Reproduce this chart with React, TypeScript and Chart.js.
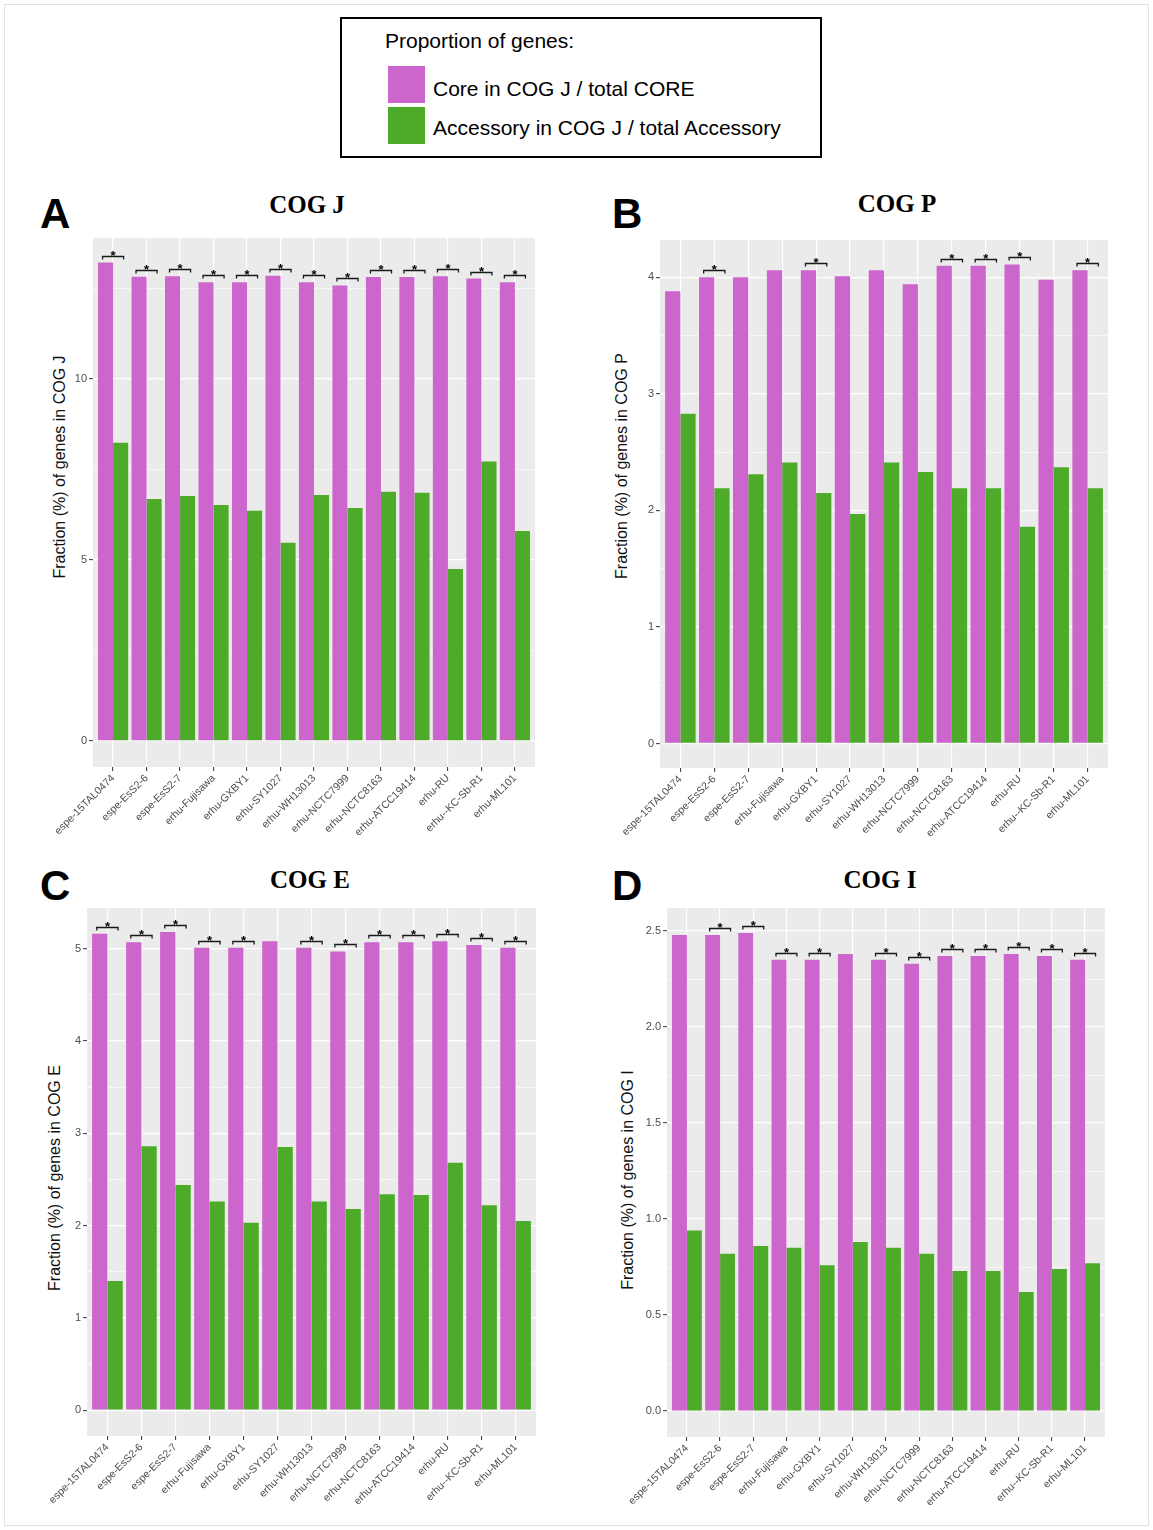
import React, { useEffect, useRef } from 'react';
import { Chart, registerables } from 'chart.js';

Chart.register(...registerables);

// ---------- data ----------
const strains = [
  'espe-15TAL0474', 'espe-EsS2-6', 'espe-EsS2-7', 'erhu-Fujisawa', 'erhu-GXBY1',
  'erhu-SY1027', 'erhu-WH13013', 'erhu-NCTC7999', 'erhu-NCTC8163', 'erhu-ATCC19414',
  'erhu-RU', 'erhu--KC-Sb-R1', 'erhu-ML101',
];

const cogJCore = [13.22, 12.83, 12.84, 12.68, 12.68, 12.86, 12.68, 12.59, 12.82, 12.82, 12.84, 12.78, 12.68];
const cogJAcc = [8.24, 6.69, 6.77, 6.52, 6.36, 5.48, 6.8, 6.44, 6.89, 6.86, 4.75, 7.72, 5.8];
const cogJSig = [1, 1, 1, 1, 1, 1, 1, 1, 1, 1, 1, 1, 1];
const cogJTicks = [0, 2.5, 5, 7.5, 10, 12.5];

const cogPCore = [3.88, 4.0, 4.0, 4.06, 4.06, 4.01, 4.06, 3.94, 4.1, 4.1, 4.11, 3.98, 4.06];
const cogPAcc = [2.83, 2.19, 2.31, 2.41, 2.15, 1.97, 2.41, 2.33, 2.19, 2.19, 1.86, 2.37, 2.19];
const cogPSig = [0, 1, 0, 0, 1, 0, 0, 0, 1, 1, 1, 0, 1];
const cogPTicks = [0, 0.5, 1, 1.5, 2, 2.5, 3, 3.5, 4];

const cogECore = [5.16, 5.07, 5.18, 5.01, 5.01, 5.08, 5.01, 4.97, 5.07, 5.07, 5.08, 5.04, 5.01];
const cogEAcc = [1.4, 2.86, 2.44, 2.26, 2.03, 2.85, 2.26, 2.18, 2.34, 2.33, 2.68, 2.22, 2.05];
const cogESig = [1, 1, 1, 1, 1, 0, 1, 1, 1, 1, 1, 1, 1];
const cogETicks = [0, 0.5, 1, 1.5, 2, 2.5, 3, 3.5, 4, 4.5, 5];

const cogICore = [2.48, 2.48, 2.49, 2.35, 2.35, 2.38, 2.35, 2.33, 2.37, 2.37, 2.38, 2.37, 2.35];
const cogIAcc = [0.94, 0.82, 0.86, 0.85, 0.76, 0.88, 0.85, 0.82, 0.73, 0.73, 0.62, 0.74, 0.77];
const cogISig = [0, 1, 1, 1, 1, 0, 1, 1, 1, 1, 1, 1, 1];
const cogITicks = [0, 0.25, 0.5, 0.75, 1, 1.25, 1.5, 1.75, 2, 2.25, 2.5];

const legendTitle = 'Proportion of genes:';
const legendCore = 'Core in COG J / total CORE';
const legendAcc = 'Accessory in COG J / total Accessory';

// ---------- style ----------
const PINK = '#CC66CC';
const GREEN = '#4DAB29';
const SANS = '"Liberation Sans", Arial, Helvetica, sans-serif';
const SERIF = '"Liberation Serif", "Times New Roman", serif';

const decoPlugin = {
  id: 'panelDeco',
  beforeDraw(chart: any) {
    const { ctx, chartArea: a } = chart;
    ctx.save();
    ctx.fillStyle = '#EBEBEB';
    ctx.fillRect(a.left, a.top, a.right - a.left, a.bottom - a.top);
    ctx.restore();
  },
  afterDatasetsDraw(chart: any, _args: any, opts: any) {
    const sig: number[] = opts.sig || [];
    const ctx = chart.ctx;
    const m0 = chart.getDatasetMeta(0);
    const m1 = chart.getDatasetMeta(1);
    ctx.save();
    ctx.strokeStyle = '#1a1a1a';
    ctx.lineWidth = 1.3;
    ctx.fillStyle = '#000';
    ctx.font = 'bold 13px ' + SANS;
    ctx.textAlign = 'center';
    ctx.textBaseline = 'alphabetic';
    sig.forEach((s, i) => {
      if (!s) return;
      const e0 = m0.data[i];
      const e1 = m1.data[i];
      const top = Math.min(e0.y, e1.y);
      const yb = Math.round(top - 7) + 0.5;
      const xl = e0.x - 3;
      const xr = e1.x + 3;
      ctx.beginPath();
      ctx.moveTo(xl, yb + 3);
      ctx.lineTo(xl, yb);
      ctx.lineTo(xr, yb);
      ctx.lineTo(xr, yb + 3);
      ctx.stroke();
      ctx.fillText('*', (xl + xr) / 2, yb + 3);
    });
    ctx.restore();
  },
};

type PanelProps = {
  core: number[];
  acc: number[];
  sig: number[];
  yTicks: number[];
  majorStep: number;
  decimals: number;
  yMin: number;
  yMax: number;
  left: number;
  top: number;
  width: number;
  height: number;
  plotLeft: number;
  plotRight: number;
  plotTop: number;
  plotBottom: number;
};

function Panel(p: PanelProps) {
  const ref = useRef<HTMLCanvasElement>(null);
  useEffect(() => {
    const canvas = ref.current as HTMLCanvasElement;
    const yW = p.plotLeft - p.left;
    const xH = p.top + p.height - p.plotBottom;
    const padTop = p.plotTop - p.top;
    const padRight = p.left + p.width - p.plotRight;
    const isMajor = (v: number) => Math.abs(v / p.majorStep - Math.round(v / p.majorStep)) < 1e-6;
    const chart = new Chart(canvas, {
      type: 'bar',
      data: {
        datasets: [
          {
            label: 'Core',
            data: p.core.map((v, i) => ({ x: i, y: v })),
            backgroundColor: PINK,
            borderWidth: 0,
            barPercentage: 1,
            categoryPercentage: 0.9,
          },
          {
            label: 'Accessory',
            data: p.acc.map((v, i) => ({ x: i, y: v })),
            backgroundColor: GREEN,
            borderWidth: 0,
            barPercentage: 1,
            categoryPercentage: 0.9,
          },
        ],
      } as any,
      options: {
        responsive: false,
        maintainAspectRatio: false,
        animation: false,
        layout: { padding: { top: padTop, right: padRight, left: 0, bottom: 0 } },
        plugins: {
          legend: { display: false },
          tooltip: { enabled: false },
          panelDeco: { sig: p.sig },
        } as any,
        scales: {
          x: {
            type: 'linear',
            min: -0.6,
            max: strains.length - 1 + 0.6,
            offset: false,
            afterBuildTicks: (s: any) => {
              s.ticks = strains.map((_, i) => ({ value: i }));
            },
            afterFit: (s: any) => {
              s.height = xH;
            },
            ticks: {
              autoSkip: false,
              maxRotation: 45,
              minRotation: 45,
              padding: 1,
              color: '#4D4D4D',
              font: { family: SANS, size: 10.5 },
              callback: (v: any) => strains[Math.round(Number(v))] ?? '',
            },
            grid: {
              color: '#FFFFFF',
              lineWidth: 1.2,
              tickColor: '#333333',
              tickLength: 4,
              tickWidth: 1,
              offset: false,
            },
            border: { display: false },
          },
          y: {
            type: 'linear',
            min: p.yMin,
            max: p.yMax,
            afterBuildTicks: (s: any) => {
              s.ticks = p.yTicks.map((v) => ({ value: v }));
            },
            afterFit: (s: any) => {
              s.width = yW;
            },
            ticks: {
              padding: 2,
              color: '#4D4D4D',
              font: { family: SANS, size: 11 },
              callback: (v: any) => (isMajor(Number(v)) ? Number(v).toFixed(p.decimals) : ''),
            },
            grid: {
              color: '#FFFFFF',
              lineWidth: (c: any) => (c.tick && isMajor(c.tick.value) ? 1.3 : 0.6),
              tickColor: (c: any) => (c.tick && isMajor(c.tick.value) ? '#333333' : 'rgba(0,0,0,0)'),
              tickLength: 4,
              tickWidth: 1,
            },
            border: { display: false },
          },
        } as any,
      },
      plugins: [decoPlugin as any],
    });
    return () => chart.destroy();
  }, []);
  return (
    <canvas
      ref={ref}
      width={p.width}
      height={p.height}
      style={{ position: 'absolute', left: p.left, top: p.top, width: p.width, height: p.height }}
    />
  );
}

function Abs(props: { left: number; top: number; style?: any; children: any }) {
  return (
    <div
      style={{
        position: 'absolute',
        left: props.left,
        top: props.top,
        whiteSpace: 'nowrap',
        lineHeight: 1,
        ...(props.style || {}),
      }}
    >
      {props.children}
    </div>
  );
}

function Letter({ x, capTop, text }: { x: number; capTop: number; text: string }) {
  return (
    <Abs left={x} top={capTop - 0.13 * 42} style={{ font: `bold 42px ${SANS}`, color: '#000' }}>
      {text}
    </Abs>
  );
}

function Title({ cx, capTop, text }: { cx: number; capTop: number; text: string }) {
  return (
    <Abs
      left={cx - 100}
      top={capTop - 0.1755 * 25}
      style={{ width: 200, textAlign: 'center', font: `bold 25px ${SERIF}`, color: '#000' }}
    >
      {text}
    </Abs>
  );
}

function YTitle({ cx, cy, text }: { cx: number; cy: number; text: string }) {
  return (
    <Abs
      left={cx}
      top={cy}
      style={{
        font: `16px ${SANS}`,
        color: '#111',
        transform: 'translate(-50%, -50%) rotate(-90deg)',
      }}
    >
      {text}
    </Abs>
  );
}

export default function App() {
  return (
    <div
      style={{
        position: 'absolute',
        left: 0,
        top: 0,
        width: 1153,
        height: 1530,
        background: '#fff',
        overflow: 'hidden',
      }}
    >
      <div
        style={{
          position: 'absolute',
          left: 4,
          top: 4,
          width: 1145,
          height: 1522,
          border: '1px solid #e2e2e2',
          boxSizing: 'border-box',
        }}
      />
      {/* legend box */}
      <div
        style={{
          position: 'absolute',
          left: 340,
          top: 17,
          width: 482,
          height: 141,
          border: '2px solid #000',
          boxSizing: 'border-box',
        }}
      />
      <Abs left={385} top={46.7 - 0.8465 * 21} style={{ font: `21px ${SANS}`, color: '#000' }}>
        {legendTitle}
      </Abs>
      <div style={{ position: 'absolute', left: 388, top: 66, width: 37, height: 37, background: PINK }} />
      <div style={{ position: 'absolute', left: 388, top: 107, width: 37, height: 37, background: GREEN }} />
      <Abs left={433} top={95 - 0.8465 * 21} style={{ font: `21px ${SANS}`, color: '#000' }}>
        {legendCore}
      </Abs>
      <Abs left={433} top={133.5 - 0.8465 * 21} style={{ font: `21px ${SANS}`, color: '#000' }}>
        {legendAcc}
      </Abs>

      {/* Panel A */}
      <Letter x={40} capTop={195} text="A" />
      <Title cx={307} capTop={195} text="COG J" />
      <YTitle cx={60} cy={467} text="Fraction (%) of genes in COG J" />
      <Panel
        core={cogJCore}
        acc={cogJAcc}
        sig={cogJSig}
        yTicks={cogJTicks}
        majorStep={5}
        decimals={0}
        yMin={-0.72}
        yMax={13.9}
        left={30}
        top={228}
        width={520}
        height={622}
        plotLeft={93}
        plotRight={535}
        plotTop={238}
        plotBottom={767}
      />

      {/* Panel B */}
      <Letter x={612} capTop={195} text="B" />
      <Title cx={897} capTop={194} text="COG P" />
      <YTitle cx={622} cy={466} text="Fraction (%) of genes in COG P" />
      <Panel
        core={cogPCore}
        acc={cogPAcc}
        sig={cogPSig}
        yTicks={cogPTicks}
        majorStep={1}
        decimals={0}
        yMin={-0.21}
        yMax={4.32}
        left={600}
        top={228}
        width={530}
        height={622}
        plotLeft={660}
        plotRight={1108}
        plotTop={240}
        plotBottom={768}
      />

      {/* Panel C */}
      <Letter x={40} capTop={867} text="C" />
      <Title cx={310} capTop={870} text="COG E" />
      <YTitle cx={55} cy={1178} text="Fraction (%) of genes in COG E" />
      <Panel
        core={cogECore}
        acc={cogEAcc}
        sig={cogESig}
        yTicks={cogETicks}
        majorStep={1}
        decimals={0}
        yMin={-0.28}
        yMax={5.44}
        left={30}
        top={898}
        width={520}
        height={622}
        plotLeft={87}
        plotRight={536}
        plotTop={908}
        plotBottom={1436}
      />

      {/* Panel D */}
      <Letter x={612} capTop={867} text="D" />
      <Title cx={880} capTop={870} text="COG I" />
      <YTitle cx={628} cy={1180} text="Fraction (%) of genes in COG I" />
      <Panel
        core={cogICore}
        acc={cogIAcc}
        sig={cogISig}
        yTicks={cogITicks}
        majorStep={0.5}
        decimals={1}
        yMin={-0.135}
        yMax={2.62}
        left={600}
        top={898}
        width={530}
        height={622}
        plotLeft={667}
        plotRight={1105}
        plotTop={908}
        plotBottom={1437}
      />
    </div>
  );
}
